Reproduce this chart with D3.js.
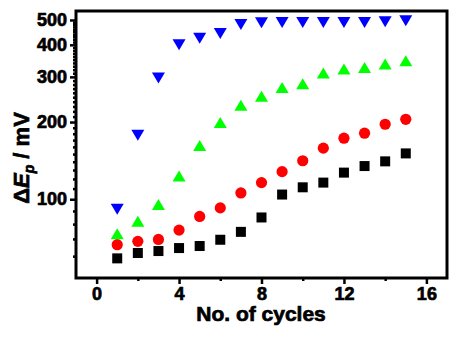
<!DOCTYPE html>
<html>
<head>
<meta charset="utf-8">
<script src="https://cdn.jsdelivr.net/npm/d3@7"></script>
<style>
  html, body { margin: 0; padding: 0; background: #fff; }
  text { font-family: "Liberation Sans", Arial, sans-serif; font-weight: bold; fill: #000; }
</style>
</head>
<body>
<svg id="chart" width="451" height="338"></svg>
<script>
const cycles = [1, 2, 3, 4, 5, 6, 7, 8, 9, 10, 11, 12, 13, 14, 15];
const blackSquares = [58.8, 61.7, 62.8, 64.5, 65.7, 69.5, 74.6, 84.9, 104.3, 111.3, 116.1, 127, 134.7, 140.5, 150.9];
const redCircles = [66.5, 68.5, 69.7, 75.8, 85.7, 92.5, 105.8, 116.1, 128.1, 141.3, 158.2, 173, 180.9, 196.1, 205];
const greenUp = [73.3, 82.1, 95.4, 123.2, 162, 199.1, 232.4, 251.9, 273, 282.2, 310.5, 321.9, 326.5, 336.5, 346.6];
const blueDown = [91.4, 177.7, 296.9, 399.9, 423.9, 443.3, 480.4, 487.8, 489, 489, 489, 489, 489, 492.6, 497];

const xMajorTicks = [0, 4, 8, 12, 16];
const xMinorTicks = [2, 6, 10, 14];
const yMajorTicks = [100, 200, 300, 400, 500];
const yMinorTicks = [60, 70, 80, 90, 110, 120, 130, 140, 150, 160, 170, 180, 190,
  210, 220, 230, 240, 250, 260, 270, 280, 290, 310, 320, 330, 340, 350, 360, 370, 380, 390,
  410, 420, 430, 440, 450, 460, 470, 480, 490];
const xTitle = "No. of cycles";

const svg = d3.select("#chart");
const L = 76, R = 447, T = 11, B = 278;

const x = d3.scaleLinear().domain([-1, 17]).range([L, R]);
const y = d3.scaleLog().domain([49.3, 542]).range([B, T]);

const xAxisMinor = d3.axisBottom(x).tickValues(xMinorTicks).tickSize(3).tickFormat("");
const xAxisMajor = d3.axisBottom(x).tickValues(xMajorTicks).tickSize(6).tickPadding(3).tickFormat(d3.format("d"));
const yAxisMinor = d3.axisLeft(y).tickValues(yMinorTicks).tickSize(3).tickFormat("");
const yAxisMajor = d3.axisLeft(y).tickValues(yMajorTicks).tickSize(6).tickPadding(3).tickFormat(d3.format("d"));

function styleAxis(g) {
  g.select(".domain").remove();
  g.selectAll(".tick line").attr("stroke", "#000").attr("stroke-width", 2.5);
}
function styleLabels(g) {
  g.selectAll(".tick text")
    .style("font-size", "18px")
    .style("font-family", "'Liberation Sans', Arial, sans-serif")
    .style("font-weight", "bold")
    .attr("stroke", "#000").attr("stroke-width", 0.7);
}

svg.append("g").attr("transform", `translate(0,${B})`).call(xAxisMinor).call(styleAxis);
svg.append("g").attr("transform", `translate(0,${B})`).call(xAxisMajor).call(styleAxis).call(styleLabels);
svg.append("g").attr("transform", `translate(${L},0)`).call(yAxisMinor).call(styleAxis);
svg.append("g").attr("transform", `translate(${L},0)`).call(yAxisMajor).call(styleAxis).call(styleLabels);

svg.append("rect").attr("x", L).attr("y", T).attr("width", R - L).attr("height", B - T)
  .attr("fill", "none").attr("stroke", "#000").attr("stroke-width", 3);

const tri = (w, h, dir) => dir > 0
  ? `M0,${-h/2}L${w/2},${h/2}L${-w/2},${h/2}Z`
  : `M0,${h/2}L${w/2},${-h/2}L${-w/2},${-h/2}Z`;

const gm = svg.append("g");
gm.selectAll("rect.sq").data(cycles.map((c, i) => [c, blackSquares[i]])).join("rect")
  .attr("class", "sq")
  .attr("x", d => x(d[0]) - 5).attr("y", d => y(d[1]) - 5)
  .attr("width", 10).attr("height", 10).attr("fill", "#000");

gm.selectAll("circle.ci").data(cycles.map((c, i) => [c, redCircles[i]])).join("circle")
  .attr("class", "ci")
  .attr("cx", d => x(d[0])).attr("cy", d => y(d[1])).attr("r", 5.6).attr("fill", "#ff0000");

gm.selectAll("path.up").data(cycles.map((c, i) => [c, greenUp[i]])).join("path")
  .attr("class", "up")
  .attr("transform", d => `translate(${x(d[0])},${y(d[1])})`)
  .attr("d", tri(13, 11, 1)).attr("fill", "#00ff00");

gm.selectAll("path.dn").data(cycles.map((c, i) => [c, blueDown[i]])).join("path")
  .attr("class", "dn")
  .attr("transform", d => `translate(${x(d[0])},${y(d[1])})`)
  .attr("d", tri(13, 11, -1)).attr("fill", "#0000ff");

svg.append("text").attr("x", (L + R) / 2 - 0.5).attr("y", 321).attr("text-anchor", "middle")
  .style("font-size", "21px").attr("stroke", "#000").attr("stroke-width", 0.7).text(xTitle);

const yt = svg.append("text").attr("transform", "translate(29,158) rotate(-90)").attr("text-anchor", "middle")
  .style("font-size", "22px").attr("stroke", "#000").attr("stroke-width", 0.7);
yt.append("tspan").text("Δ");
yt.append("tspan").style("font-style", "italic").text("E");
yt.append("tspan").style("font-style", "italic").style("font-size", "14px").attr("dy", 5).text("p");
yt.append("tspan").attr("dy", -5).text(" / mV");
</script>
</body>
</html>
